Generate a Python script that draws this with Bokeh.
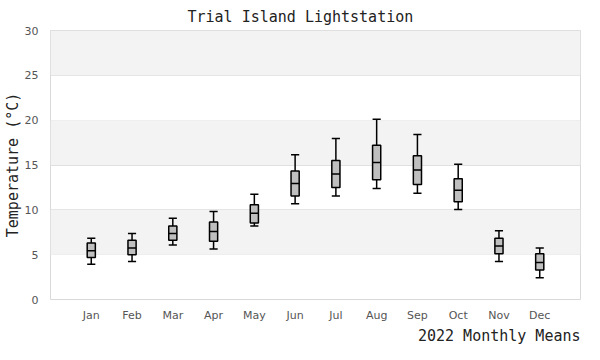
from bokeh.plotting import figure
from bokeh.models import Range1d, FixedTicker, BoxAnnotation, Title, ColumnDataSource
from bokeh.embed import file_html
from bokeh.resources import INLINE

months = ["Jan", "Feb", "Mar", "Apr", "May", "Jun", "Jul", "Aug", "Sep", "Oct", "Nov", "Dec"]
low = [3.93, 4.25, 6.07, 5.64, 8.21, 10.68, 11.54, 12.39, 11.86, 10.04, 4.25, 2.43]
q1 = [4.68, 5.00, 6.61, 6.50, 8.54, 11.54, 12.50, 13.36, 12.82, 10.89, 5.11, 3.29]
median = [5.43, 5.75, 7.36, 7.57, 9.61, 12.93, 14.00, 15.29, 14.43, 12.18, 5.96, 4.14]
q3 = [6.29, 6.61, 8.21, 8.64, 10.57, 14.32, 15.50, 17.21, 16.04, 13.46, 6.82, 5.11]
high = [6.82, 7.36, 9.07, 9.82, 11.75, 16.14, 17.96, 20.11, 18.39, 15.07, 7.68, 5.75]
y_ticks = [0, 5, 10, 15, 20, 25, 30]
bands = [(5, 10), (15, 20), (25, 30)]

pos = [i + 1 for i in range(len(months))]
hw = 0.1
src = ColumnDataSource(dict(
    x=pos, x0=[p - hw for p in pos], x1=[p + hw for p in pos],
    low=low, q1=q1, median=median, q3=q3, high=high,
))

p = figure(width=584, height=344, output_backend="svg", toolbar_location=None,
           x_range=Range1d(0, len(months) + 1), y_range=Range1d(0, 30),
           min_border_left=43, min_border_right=4, min_border_top=0, min_border_bottom=0)

p.title.text = "Trial Island Lightstation"
p.title.align = "left"
p.title.offset = 137
p.title.text_font = "DejaVu Sans Mono"
p.title.text_font_size = "15px"
p.title.text_font_style = "normal"
p.title.text_color = "#222222"

for lo, hi in bands:
    p.add_layout(BoxAnnotation(bottom=lo, top=hi, fill_color="#f3f3f3", fill_alpha=1.0,
                               line_color=None, level="underlay"))

p.segment(x0="x", x1="x", y0="q3", y1="high", source=src, line_color="black", line_width=1.5)
p.segment(x0="x", x1="x", y0="low", y1="q1", source=src, line_color="black", line_width=1.5)
p.segment(x0="x0", x1="x1", y0="high", y1="high", source=src, line_color="black", line_width=1.5)
p.segment(x0="x0", x1="x1", y0="low", y1="low", source=src, line_color="black", line_width=1.5)
p.vbar(x="x", width=2 * hw, bottom="q1", top="q3", source=src,
       fill_color="#bfbfbf", line_color="black", line_width=1.5)
p.segment(x0="x0", x1="x1", y0="median", y1="median", source=src, line_color="black", line_width=1.5)

p.xaxis.ticker = FixedTicker(ticks=pos)
p.xaxis.major_label_overrides = {p_: m for p_, m in zip(pos, months)}
p.yaxis.ticker = FixedTicker(ticks=y_ticks)

for ax in (p.xaxis, p.yaxis):
    ax.axis_line_color = None
    ax.major_tick_line_color = None
    ax.minor_tick_line_color = None
    ax.major_tick_out = 0
    ax.major_tick_in = 0
    ax.minor_tick_out = 0
    ax.major_label_text_font = "DejaVu Sans"
    ax.major_label_text_font_size = "11px"
    ax.major_label_text_color = "#555555"
p.xaxis.major_label_standoff = 9
p.yaxis.major_label_standoff = 12

p.yaxis.axis_label = "Temperature (°C)"
p.yaxis.axis_label_text_font = "DejaVu Sans Mono"
p.yaxis.axis_label_text_font_size = "15px"
p.yaxis.axis_label_text_font_style = "normal"
p.yaxis.axis_label_text_color = "#222222"
p.yaxis.axis_label_standoff = 0

p.xgrid.grid_line_color = None
p.ygrid.grid_line_color = "#e0e0e0"
p.ygrid.grid_line_width = 1
p.outline_line_color = "#d9d9d9"
p.background_fill_color = "white"

p.add_layout(Title(text="2022 Monthly Means", align="right", text_font="DejaVu Sans Mono",
                   text_font_size="15px", text_font_style="normal", text_color="#222222",
                   standoff=0), "below")

open("out.html", "w").write(file_html(p, INLINE))
